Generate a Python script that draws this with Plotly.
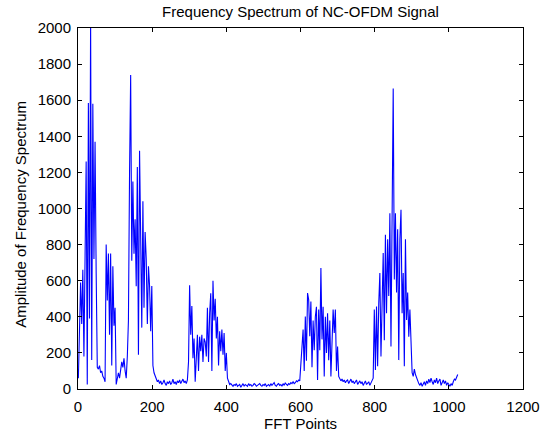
import numpy as np
import plotly.graph_objects as go

# FFT bin spacing used when reading the picture (every 3rd bin, starting at bin 1)
bin_step = 3
first_bin = 1

# Amplitude readings, band by band
band_a = [60, 330, 590, 360, 660, 180, 810, 1260, 25, 1585, 390, 2040, 160, 1580, 720, 1370, 640, 120,
          110, 130, 90, 100, 70, 60, 40,
          800, 490, 750, 300, 750, 130, 680, 350, 450]
gap_ab = [25, 55, 90, 60, 110, 150, 120, 170, 100, 60, 180, 380]
band_b = [1200, 1740, 710, 1150, 750, 940, 570, 1230, 190, 1320, 845, 340, 1040, 450, 870, 720, 360,
          680, 570, 320, 570]
floor_c = [130, 90, 70, 55, 40, 50, 30, 45, 25, 35, 50, 30, 20, 40, 30, 45, 25, 35, 55, 30, 40, 25,
           45, 35, 50, 30, 40, 55, 35, 45, 30, 50]
band_d = [150, 575, 300, 460, 170, 280, 40, 210, 300, 100, 290, 210, 300, 150, 280, 260, 180, 450,
          150, 420, 530, 100, 600, 380, 500, 280, 400, 130, 320, 210, 330, 190, 310, 100, 200]
floor_e = [60, 35, 25, 30, 20, 15, 25, 20, 30, 15,
           20, 25, 10, 20, 30, 15, 25, 20, 15, 30,
           20, 25, 15, 20, 30, 25, 15, 20, 25, 30,
           20, 15, 25, 20, 30, 15, 20, 25, 15, 30,
           20, 25, 35, 20, 15, 25, 30, 20, 25, 15,
           30, 20, 35, 25, 20, 30, 25, 35, 30, 40,
           30, 35, 45, 40, 50, 45]
band_f = [145, 292, 329, 100, 402, 157, 532, 495, 292, 485,
          120, 380, 215, 400, 455, 50, 440, 215, 670, 275,
          455, 70, 400, 200, 420, 160, 380, 70, 290, 440,
          310, 440, 100, 235, 70]
floor_g = [60, 45, 55, 40, 50, 35, 45, 50, 30, 40, 55, 35, 45, 30, 40, 50, 25, 35, 45, 30,
           40, 20, 35, 45, 25, 30, 40, 20, 35, 50]
band_h = [60, 440, 105, 457, 126, 475, 642, 180, 570, 753,
          270, 855, 420, 830, 515, 974, 235, 920, 1665, 607,
          974, 535, 885, 160, 830, 993, 420, 642, 126, 830,
          383, 535, 290, 440, 180, 90, 70]
floor_i = [110, 80, 60, 40, 30, 20, 35, 15, 25, 40,
           20, 45, 30, 55, 35, 60, 40, 25, 50, 35,
           60, 30, 45, 55, 20, 40, 50, 30, 45, 20,
           35, 25, 15, 30, 20, 40, 55, 50, 70, 80]

amplitude = np.array(band_a + gap_ab + band_b + floor_c + band_d + floor_e +
                     band_f + floor_g + band_h + floor_i, dtype=float)
fft_points = first_bin + bin_step * np.arange(len(amplitude))

x_ticks = [0, 200, 400, 600, 800, 1000, 1200]
y_ticks = [0, 200, 400, 600, 800, 1000, 1200, 1400, 1600, 1800, 2000]

title_text = "Frequency Spectrum of NC-OFDM Signal"
x_label = "FFT Points"
y_label = "Amplitude of Frequency Spectrum"

font_family = "Liberation Sans, Arial, sans-serif"
txt = dict(family=font_family, size=15, color="black")

fig = go.Figure()
fig.add_trace(go.Scatter(x=fft_points, y=amplitude, mode="lines",
                         line=dict(color="#0000ff", width=1.1), showlegend=False,
                         hoverinfo="skip"))

axis_common = dict(showline=True, linecolor="black", linewidth=1, mirror="allticks",
                   ticks="inside", ticklen=4, tickcolor="black", showgrid=False,
                   zeroline=False, automargin=False, tickfont=txt)

fig.update_layout(
    width=554, height=441,
    margin=dict(l=78, r=31, t=28, b=51.5),
    paper_bgcolor="white", plot_bgcolor="white",
    title=dict(text=title_text, x=300.5 / 554, xanchor="center",
               y=1 - 11.5 / 441, yanchor="middle", font=txt),
    xaxis=dict(range=[0, 1200], tickvals=x_ticks, ticklabelstandoff=4, **axis_common),
    yaxis=dict(range=[0, 2000], tickvals=y_ticks, ticklabelstandoff=3, **axis_common),
    annotations=[
        dict(text=x_label, xref="paper", yref="paper", x=0.5, y=-0.0954,
             xanchor="center", yanchor="middle", showarrow=False, font=txt),
        dict(text=y_label, xref="paper", yref="paper", x=-0.130, y=0.483,
             xanchor="center", yanchor="middle", textangle=-90, showarrow=False, font=txt),
    ],
)

fig.write_html("out.html", config={"displayModeBar": False},
               post_script="document.body.style.margin='0';")
